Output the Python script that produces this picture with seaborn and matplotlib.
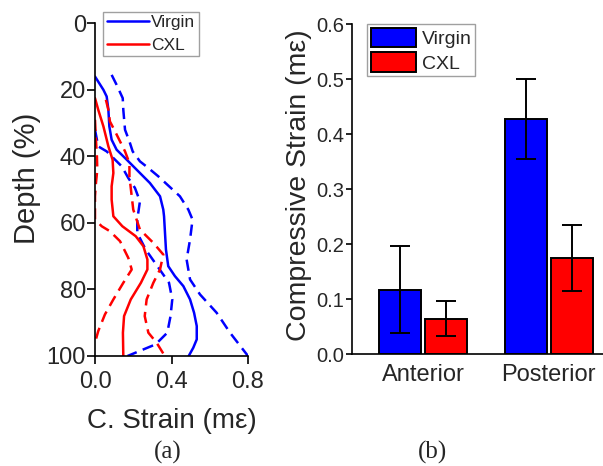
import numpy as np
import pandas as pd
import matplotlib
matplotlib.use("Agg")
import matplotlib.pyplot as plt
import seaborn as sns
from matplotlib.lines import Line2D
from matplotlib.patches import Patch

# --- (a) depth profiles: mean (solid) and mean +/- sd (dashed) ---
virgin_mean_depth = [16, 20, 22, 26, 31, 35, 38, 41, 45, 48, 52, 56, 58, 63, 68, 73, 76, 79, 83, 87, 91, 95, 97.5, 100]
virgin_mean = [0.0, 0.044, 0.061, 0.07, 0.075, 0.087, 0.113, 0.166, 0.235, 0.287, 0.34, 0.357, 0.361, 0.366, 0.371,
               0.383, 0.418, 0.462, 0.497, 0.518, 0.532, 0.532, 0.514, 0.49]

virgin_upper_depth = [15.5, 18.5, 22.5, 26, 32, 35.5, 38.5, 41.5, 43.5, 46, 52, 56, 59, 65, 71, 77, 81.5, 87, 93, 100]
virgin_upper = [0.087, 0.113, 0.145, 0.148, 0.157, 0.18, 0.197, 0.235, 0.279, 0.331, 0.444, 0.488, 0.51, 0.497,
                0.479, 0.497, 0.549, 0.636, 0.706, 0.80]

virgin_lower_depth = [32, 37, 38.5, 43, 46.5, 49.5, 53.5, 59, 63, 68, 73, 78, 83, 88, 93, 96.5, 100]
virgin_lower = [0.0, 0.017, 0.061, 0.14, 0.174, 0.209, 0.235, 0.221, 0.221, 0.265, 0.326, 0.387, 0.404, 0.395,
                0.378, 0.317, 0.17]

cxl_mean_depth = [22.5, 26, 31, 37, 41, 45, 49, 53, 58, 61, 64, 67, 71, 74, 78, 83, 88, 93, 100]
cxl_mean = [0.0, 0.017, 0.044, 0.07, 0.092, 0.096, 0.087, 0.087, 0.096, 0.143, 0.213, 0.253, 0.274, 0.274,
            0.24, 0.187, 0.152, 0.146, 0.148]

cxl_upper_depth = [23, 26, 29.5, 32.5, 35.5, 38.5, 42, 46, 52, 56, 62, 66, 69.5, 74, 78, 83, 88, 93, 96, 100]
cxl_upper = [0.057, 0.07, 0.078, 0.105, 0.131, 0.157, 0.18, 0.18, 0.192, 0.2, 0.235, 0.305, 0.357, 0.34,
             0.305, 0.27, 0.26, 0.279, 0.322, 0.365]

cxl_lower_depth = [29, 34, 40, 44, 48, 52, 59, 61, 62.5, 65.5, 70.5, 74, 78, 83, 87.5, 92.5, 96]
cxl_lower = [0.0, 0.004, 0.01, 0.012, 0.005, 0.0, 0.0, 0.035, 0.078, 0.131, 0.174, 0.192, 0.148, 0.096,
             0.052, 0.017, 0.0]

# --- (b) mean compressive strain with error bars ---
regions = ["Anterior", "Posterior"]
samples = ["Virgin", "CXL"]
virgin_strain = [0.117, 0.427]
virgin_err = [0.079, 0.073]
cxl_strain = [0.064, 0.175]
cxl_err = [0.032, 0.060]

colors = {"Virgin": "#0000FF", "CXL": "#FF0000"}

sns.set_theme(style="ticks")
plt.rcParams["font.family"] = ["Liberation Sans", "DejaVu Sans"]
plt.rcParams["axes.linewidth"] = 1.2
plt.rcParams["axes.edgecolor"] = "black"


def profile(sample, stat, depth, strain):
    return pd.DataFrame({"depth": depth, "strain": strain, "sample": sample, "stat": stat})


profiles = pd.concat([
    profile("Virgin", "mean", virgin_mean_depth, virgin_mean),
    profile("Virgin", "upper", virgin_upper_depth, virgin_upper),
    profile("Virgin", "lower", virgin_lower_depth, virgin_lower),
    profile("CXL", "mean", cxl_mean_depth, cxl_mean),
    profile("CXL", "upper", cxl_upper_depth, cxl_upper),
    profile("CXL", "lower", cxl_lower_depth, cxl_lower),
], ignore_index=True)

bars = pd.DataFrame({
    "region": regions * 2,
    "sample": ["Virgin"] * 2 + ["CXL"] * 2,
    "strain": virgin_strain + cxl_strain,
})

fig = plt.figure(figsize=(6.03, 4.66), dpi=100)
ax1 = fig.add_axes([95 / 603, 1 - 356 / 466, 153 / 603, 332.7 / 466])
ax2 = fig.add_axes([352 / 603, 1 - 354 / 466, 251 / 603, 329.7 / 466])

# panel (a)
sns.lineplot(data=profiles, x="strain", y="depth", hue="sample", style="stat",
             hue_order=samples, palette=colors, style_order=["mean", "upper", "lower"],
             dashes={"mean": "", "upper": (4.5, 2.6), "lower": (4.5, 2.6)},
             estimator=None, orient="y", sort=True, linewidth=1.8, legend=False, ax=ax1)
ax1.set_xlim(0, 0.8)
ax1.set_ylim(100, 0)
ax1.set_xticks([0, 0.4, 0.8])
ax1.set_xticklabels(["0.0", "0.4", "0.8"])
ax1.set_yticks(np.arange(0, 101, 20))
ax1.tick_params(axis="both", labelsize=17, length=5.5, width=1.2, direction="out", color="black")
ax1.tick_params(axis="x", pad=5)
ax1.tick_params(axis="y", pad=1)
sns.despine(ax=ax1)
ax1.set_xlabel("C. Strain (mε)", fontsize=20)
ax1.xaxis.set_label_coords(0.5, -0.155)
ax1.set_ylabel("Depth (%)", fontsize=21)
ax1.yaxis.set_label_coords(-0.35, 0.535)
line_handles = [Line2D([], [], color=colors[s], lw=1.8) for s in samples]
leg1 = ax1.legend(line_handles, samples, loc="upper left", bbox_to_anchor=(0.055, 1.035),
                  fontsize=12.5, handlelength=2.4, handletextpad=0.15, labelspacing=0.42,
                  borderpad=0.2, borderaxespad=0, fancybox=False, frameon=True)
leg1.get_frame().set_edgecolor("#888888")
leg1.get_frame().set_linewidth(1.0)

# panel (b)
sns.barplot(data=bars, x="region", y="strain", hue="sample", order=regions, hue_order=samples,
            palette=colors, errorbar=None, width=0.73, gap=0.1, edgecolor="black",
            linewidth=1.4, saturation=1, legend=False, ax=ax2)
for cont, vals, errs in zip(ax2.containers, [virgin_strain, cxl_strain], [virgin_err, cxl_err]):
    xs = [b.get_x() + b.get_width() / 2 for b in cont]
    ax2.errorbar(xs, vals, yerr=errs, fmt="none", ecolor="black", elinewidth=1.4,
                 capsize=7, capthick=1.4, zorder=5)
ax2.set_xlim(-0.563, 1.43)
ax2.set_ylim(0, 0.6)
ax2.set_yticks(np.arange(0, 0.61, 0.1))
ax2.set_yticklabels([f"{v:.1f}" for v in np.arange(0, 0.61, 0.1)])
ax2.tick_params(axis="y", labelsize=14.5, length=4, width=1.2, pad=1.5, color="black")
ax2.tick_params(axis="x", labelsize=17, length=0, pad=7)
sns.despine(ax=ax2)
ax2.set_xlabel("")
ax2.set_ylabel("Compressive Strain (mε)", fontsize=20.5)
ax2.yaxis.set_label_coords(-0.16, 0.513)
patch_handles = [Patch(facecolor=colors[s], edgecolor="black", linewidth=1.4) for s in samples]
leg2 = ax2.legend(patch_handles, samples, loc="upper left", bbox_to_anchor=(0.06, 1.0),
                  fontsize=14, handlelength=2.3, handleheight=1.15, handletextpad=0.3,
                  labelspacing=0.2, borderpad=0.2, borderaxespad=0, fancybox=False, frameon=True)
leg2.get_frame().set_edgecolor("#888888")
leg2.get_frame().set_linewidth(1.0)

fig.text(168 / 603, 1 - 452 / 466, "(a)", ha="center", va="center", fontsize=18,
         family=["Liberation Serif", "DejaVu Serif"])
fig.text(433 / 603, 1 - 452 / 466, "(b)", ha="center", va="center", fontsize=18,
         family=["Liberation Serif", "DejaVu Serif"])

fig.savefig("out.png", dpi=100, facecolor="white")
